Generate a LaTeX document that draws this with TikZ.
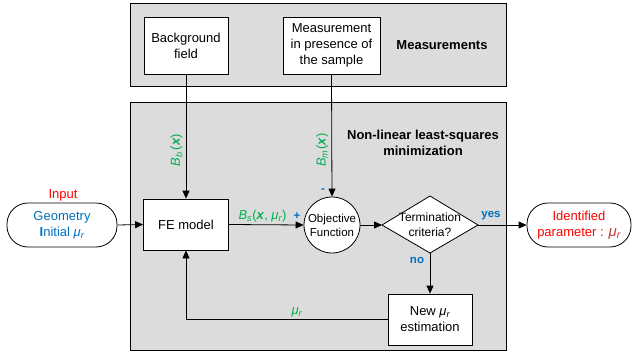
\documentclass[tikz,border=0pt]{standalone}
\usepackage{fontspec}
\setmainfont{Liberation Sans}
\usetikzlibrary{shapes.geometric,arrows.meta}
\definecolor{panelgray}{RGB}{220,220,220}
\definecolor{fgreen}{RGB}{0,176,80}
\definecolor{fblue}{RGB}{0,112,192}
\definecolor{fred}{RGB}{255,0,0}
\definecolor{fdred}{RGB}{192,64,64}
\newcommand{\mur}{\textit{μ\textsubscript{r}}}
\tikzset{
  panel/.style={draw, fill=panelgray, line width=0.8pt, inner sep=0pt},
  box/.style={draw, fill=white, line width=0.8pt, align=center, inner sep=0pt},
  term/.style={draw, fill=white, line width=0.8pt, align=center, inner sep=0pt, rounded corners=21pt},
  conn/.style={line width=0.8pt, -{Triangle[length=8pt,width=7pt]}},
  plain/.style={line width=0.8pt},
  small/.style={font=\fontsize{11.5}{13}\selectfont\bfseries, text=fblue, inner sep=1pt},
}
\begin{document}
\begin{tikzpicture}[x=1pt,y=-1pt,font=\fontsize{13}{16}\selectfont]
\useasboundingbox (0,0) rectangle (633,356);
% panels
\node[panel, minimum width=376, minimum height=83] (mp) at (318,44.5) {};
\node[panel, minimum width=376, minimum height=248] (np) at (318,226) {};
\node[font=\fontsize{13}{16}\selectfont\bfseries] (mlabel) at (442,45) {Measurements};
\node[font=\fontsize{13}{16}\selectfont\bfseries, align=center] (nlabel) at (423,143) {Non-linear least-squares\\minimization};
% boxes
\node[box, minimum width=84, minimum height=57] (bg) at (186,45.5) {Background\\field};
\node[box, minimum width=97, minimum height=57] (meas) at (331.5,45.5) {Measurement\\in presence of\\the sample};
\node[box, minimum width=85, minimum height=51] (fe) at (186,224.5) {FE model};
\node[term, minimum width=110, minimum height=44, text=fblue] (in) at (62,225) {Geometry\\\textbf{I}nitial \mur};
\node[text=fred] (inlabel) at (63,195) {Input};
\node[circle, draw, fill=white, line width=0.8pt, minimum size=56, inner sep=0pt, align=center, font=\fontsize{11.5}{14}\selectfont] (obj) at (332,225) {Objective\\Function};
% decision diamond
\coordinate (tw) at (382,225);
\coordinate (te) at (478,225);
\coordinate (tn) at (430,196);
\coordinate (ts) at (430,253);
\draw[line width=0.8pt, fill=white] (tw) -- (tn) -- (te) -- (ts) -- cycle;
\node[align=center, font=\fontsize{12}{15}\selectfont, inner sep=0pt] (term) at (430,225) {Termination\\criteria?};
\node[term, minimum width=104, minimum height=44, text=fred] (id) at (579,225) {Identified\\parameter : \textcolor{fdred}{\fontsize{15}{16}\selectfont\mur}};
\node[box, minimum width=84, minimum height=51] (new) at (430,319.5) {New \mur\\estimation};
% connectors
\draw[conn] (bg.south) -- node[pos=0.61, rotate=90, above, text=fgreen, inner sep=3pt] (lbb) {\textit{B\textsubscript{b}}\,(\textbf{\textit{x}})} (fe.north);
\draw[conn] (meas.south) -- node[pos=0.62, rotate=90, above, text=fgreen, inner sep=3pt] (lbm) {\textit{B\textsubscript{m}}(\textbf{\textit{x}})} (obj.north);
\draw[conn] (in.east) -- (fe.west);
\draw[conn] (fe.east) -- node[above, text=fgreen, pos=0.45, inner sep=2pt] (lbs) {\textit{B\textsubscript{s}}(\textbf{\textit{x}}, \mur)} (obj.west);
\draw[conn] (obj.east) -- (tw);
\draw[conn] (te) -- (id.west);
\draw[conn] (ts) -- (new.north);
\draw[conn] (new.west) -| node[pos=0.225, above, text=fgreen, inner sep=2pt] (lmu) {\mur} (fe.south);
% small labels
\node[small] (plus) at (297,216) {+};
\node[small] (minus) at (323,191) {-};
\node[small] (yes) at (491,216) {yes};
\node[small] (no) at (417,260) {no};
\end{tikzpicture}
\end{document}
